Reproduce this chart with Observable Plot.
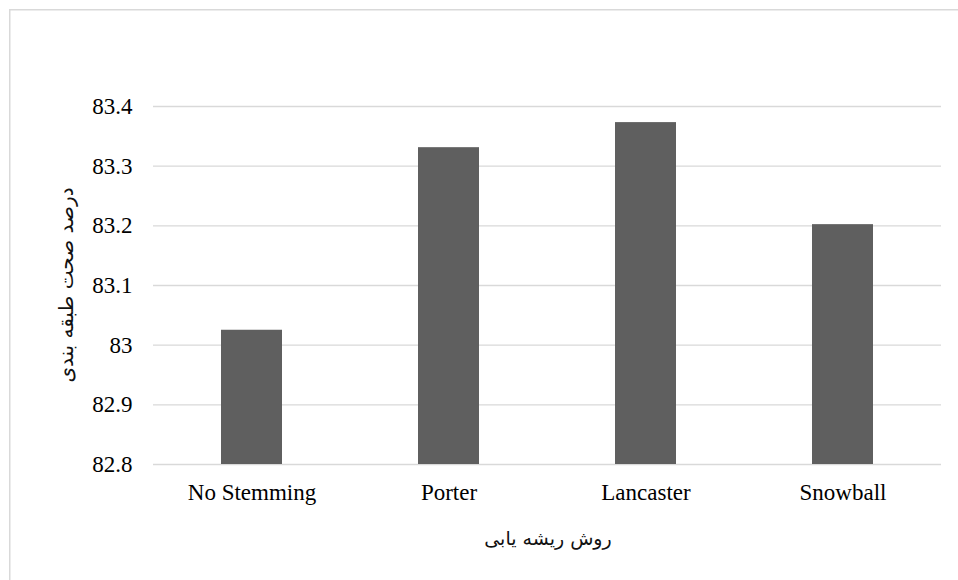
<!DOCTYPE html>
<html>
<head>
<meta charset="utf-8">
<script src="https://cdn.jsdelivr.net/npm/d3@7"></script>
<script src="https://cdn.jsdelivr.net/npm/@observablehq/plot@0.6"></script>
<style>
  html, body { margin: 0; padding: 0; background: #fff; }
  #wrap { position: relative; width: 958px; height: 580px; overflow: hidden; }
  .axis-title { position: absolute; width: 300px; height: 26px; line-height: 26px;
                text-align: center; direction: rtl; white-space: nowrap; color: #111;
                font-family: "DejaVu Sans", sans-serif; }
  #ytitle { left: -84px; top: 272px; font-size: 20px; transform: rotate(-90deg); }
  #xtitle { left: 398px; top: 525px; font-size: 19px; }
</style>
</head>
<body>
<div id="wrap">
  <div id="chart"></div>
  <div id="ytitle" class="axis-title"></div>
  <div id="xtitle" class="axis-title"></div>
</div>
<script>
// Stemming methods and the classification accuracy (%) each one reaches
const categories = ["No Stemming", "Porter", "Lancaster", "Snowball"];
const accuracy = [83.025, 83.331, 83.373, 83.202];
const yTicks = [82.8, 82.9, 83, 83.1, 83.2, 83.3, 83.4];
const yDomain = [82.8, 83.4];
const xTitle = "روش ریشه یابی";
const yTitle = "درصد صحت طبقه بندی";

const serifStack = "Liberation Serif, Times New Roman, Tinos, serif";
const rows = categories.map((c, i) => ({method: c, value: accuracy[i]}));

const chart = Plot.plot({
  width: 958,
  height: 580,
  marginLeft: 153,
  marginRight: 17,
  marginTop: 106,
  marginBottom: 116,
  style: {fontFamily: serifStack, fontSize: "23px"},
  x: {domain: categories, paddingInner: 0.688, paddingOuter: 0.344, label: null},
  y: {domain: yDomain, label: null},
  marks: [
    Plot.ruleY(yTicks, {stroke: "#d9d9d9", strokeWidth: 1.4}),
    Plot.barY(rows, {x: "method", y1: yDomain[0], y2: "value", fill: "#5f5f5f"}),
    Plot.axisY(yTicks, {tickSize: 0, tickPadding: 21, tickFormat: d => String(d), label: null,
      fontFamily: serifStack, fontSize: 23}),
    Plot.axisX({tickSize: 0, tickPadding: 19, label: null,
      fontFamily: serifStack, fontSize: 23})
  ]
});

// tick labels carry the serif face directly on each text element
d3.select(chart).selectAll("text")
  .attr("font-family", serifStack)
  .style("font-family", serifStack);

// light chart-area border, running off the right and bottom edges
d3.select(chart).insert("rect", ":first-child")
  .attr("x", 9.75).attr("y", 9.75)
  .attr("width", 980).attr("height", 600)
  .attr("fill", "none").attr("stroke", "#d9d9d9").attr("stroke-width", 1.5);

document.getElementById("chart").appendChild(chart);
document.getElementById("xtitle").textContent = xTitle;
document.getElementById("ytitle").textContent = yTitle;
</script>
</body>
</html>
